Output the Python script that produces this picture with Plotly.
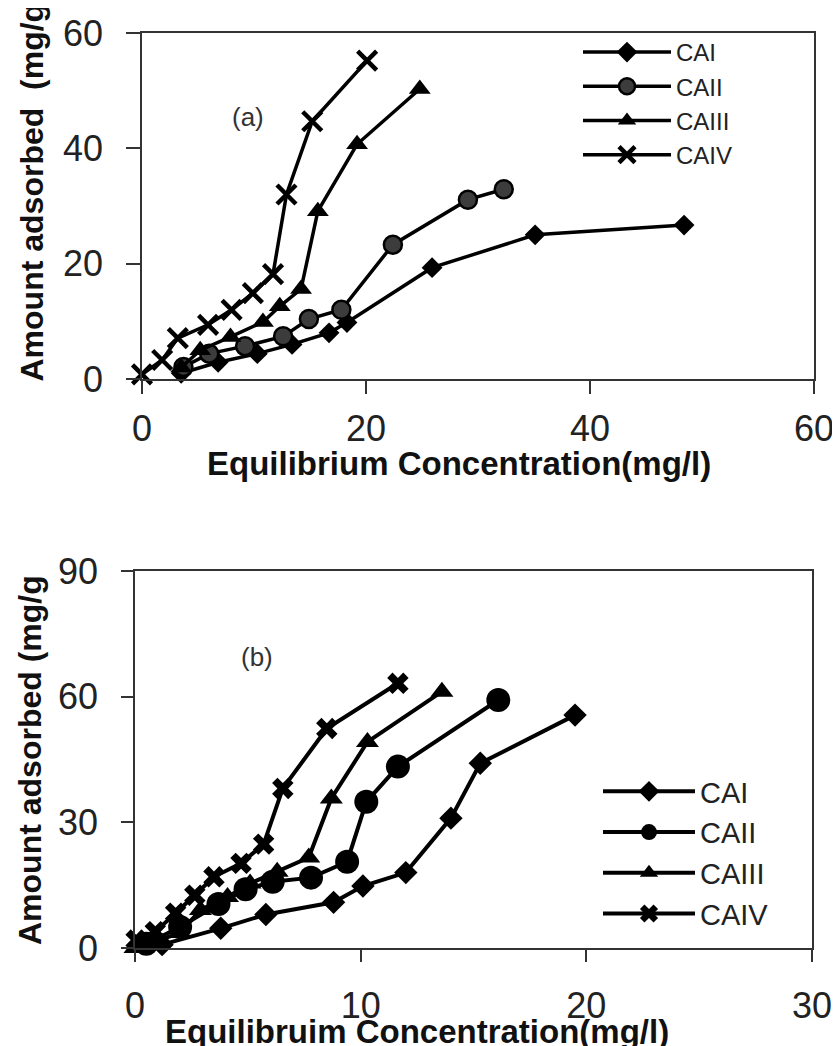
import plotly.graph_objects as go

# ---- panel (a) data ----
series_names = ["CAI", "CAII", "CAIII", "CAIV"]

a_cai_x = [3.5, 6.8, 10.3, 13.4, 16.7, 18.3, 25.9, 35.1, 48.4]
a_cai_y = [1.0, 2.9, 4.4, 6.0, 8.0, 9.8, 19.3, 25.0, 26.7]
a_caii_x = [3.7, 6.0, 9.2, 12.6, 14.9, 17.8, 22.4, 29.1, 32.3]
a_caii_y = [2.1, 4.4, 5.7, 7.4, 10.4, 12.0, 23.3, 31.1, 32.9]
a_caiii_x = [3.5, 5.2, 7.9, 10.8, 12.3, 14.2, 15.7, 19.2, 24.8]
a_caiii_y = [2.0, 5.0, 7.3, 9.9, 12.6, 15.6, 29.1, 40.7, 50.3]
a_caiv_x = [0.0, 1.8, 3.2, 5.9, 8.0, 9.9, 11.7, 12.9, 15.2, 20.1]
a_caiv_y = [0.8, 3.3, 7.1, 9.4, 12.0, 14.9, 18.2, 32.0, 44.7, 55.2]

# ---- panel (b) data ----
b_cai_x = [1.2, 3.8, 5.8, 8.8, 10.1, 12.0, 14.0, 15.3, 19.5]
b_cai_y = [0.8, 4.7, 8.0, 10.9, 14.8, 18.0, 31.0, 44.1, 55.6]
b_caii_x = [0.5, 2.0, 3.7, 4.9, 6.1, 7.8, 9.4, 10.25, 11.65, 16.1]
b_caii_y = [1.0, 5.0, 10.5, 14.0, 15.8, 16.8, 20.6, 34.9, 43.3, 59.2]
b_caiii_x = [0.0, 2.0, 2.9, 4.1, 5.1, 6.3, 7.7, 8.7, 10.3, 13.6]
b_caiii_y = [0.0, 3.6, 9.1, 12.2, 15.4, 18.2, 21.6, 35.7, 49.2, 61.2]
b_caiv_x = [0.05, 0.9, 1.8, 2.65, 3.5, 4.7, 5.7, 6.55, 8.5, 11.65]
b_caiv_y = [1.9, 3.9, 8.3, 12.6, 17.0, 20.2, 24.8, 38.1, 52.4, 63.2]

a_x_ticks = [0, 20, 40, 60]
a_y_ticks = [0, 20, 40, 60]
b_x_ticks = [0, 10, 20, 30]
b_y_ticks = [0, 30, 60, 90]

FONT = "Arial, Liberation Sans, sans-serif"
# the page body has an 8px margin, so the figure is 8px smaller and
# every layout position below is given in page pixels
PAD = 8
W, H = 840 - PAD, 1046 - PAD


def fx(px):
    return (px - PAD) / W


def fy(py):
    return 1 - (py - PAD) / H


def axis(ticks, domain, anchor, ticklen, standoff):
    return dict(
        range=[ticks[0], ticks[-1]], tickvals=ticks, domain=domain, anchor=anchor,
        showline=True, mirror=True, linecolor="#333", linewidth=1.5,
        ticks="outside", ticklen=ticklen, tickwidth=1.5, tickcolor="#333",
        showgrid=False, zeroline=False, ticklabelstandoff=standoff,
        automargin=False,
        tickfont=dict(family=FONT, size=36, color="#222"),
    )


fig = go.Figure()

a_styles = [
    dict(symbol="diamond", size=16, color="black"),
    dict(symbol="circle", size=18, color="#3c3c3c", line=dict(color="black", width=2.5)),
    dict(symbol="triangle-up", size=19, color="black"),
    dict(symbol="x-thin", size=19, color="black", line=dict(color="black", width=4.5)),
]
a_data = [(a_cai_x, a_cai_y), (a_caii_x, a_caii_y), (a_caiii_x, a_caiii_y), (a_caiv_x, a_caiv_y)]
for name, (xs, ys), mk in zip(series_names, a_data, a_styles):
    fig.add_trace(go.Scatter(
        x=xs, y=ys, name=name, mode="lines+markers", xaxis="x", yaxis="y",
        line=dict(color="black", width=3.5), marker=mk, cliponaxis=False,
        legend="legend",
    ))

b_styles = [
    dict(symbol="diamond", size=18, color="black"),
    dict(symbol="circle", size=24, color="black"),
    dict(symbol="triangle-up", size=20, color="black"),
    dict(symbol="x", size=19, color="black"),
]
b_data = [(b_cai_x, b_cai_y), (b_caii_x, b_caii_y), (b_caiii_x, b_caiii_y), (b_caiv_x, b_caiv_y)]
for name, (xs, ys), mk in zip(series_names, b_data, b_styles):
    fig.add_trace(go.Scatter(
        x=xs, y=ys, name=name, mode="lines+markers", xaxis="x2", yaxis="y2",
        line=dict(color="black", width=4), marker=mk, cliponaxis=False,
        legend="legend2",
    ))

title_font = dict(family=FONT, size=33, color="#111", weight="bold")
annotations = [
    dict(text="Equilibrium Concentration(mg/l)", x=fx(459), y=fy(463),
         xanchor="center", yanchor="middle", font=title_font),
    dict(text="Equilibruim Concentration(mg/l)", x=fx(417), y=fy(1031),
         xanchor="center", yanchor="middle", font=title_font),
    dict(text="Amount adsorbed\u00a0\u00a0(mg/g", x=fx(32), y=fy(384), textangle=-90,
         xanchor="center", yanchor="bottom", font=dict(title_font, size=32)),
    dict(text="Amount adsorbed (mg/g", x=fx(30), y=fy(947), textangle=-90,
         xanchor="center", yanchor="bottom", font=dict(title_font, size=32)),
    dict(text="(a)", x=fx(248), y=fy(117), xanchor="center", yanchor="middle",
         font=dict(family=FONT, size=26, color="#333")),
    dict(text="(b)", x=fx(257), y=fy(657), xanchor="center", yanchor="middle",
         font=dict(family=FONT, size=26, color="#333")),
]
for a in annotations:
    a.update(xref="paper", yref="paper", showarrow=False)

fig.update_layout(
    width=W, height=H, margin=dict(l=0, r=0, t=0, b=0, autoexpand=False),
    paper_bgcolor="white", plot_bgcolor="white",
    xaxis=axis(a_x_ticks, [fx(142), fx(814)], "y", 13, 4),
    yaxis=axis(a_y_ticks, [fy(379), fy(33)], "x", 14, 16),
    xaxis2=axis(b_x_ticks, [fx(135), fx(812)], "y2", 12, 13),
    yaxis2=axis(b_y_ticks, [fy(948), fy(571)], "x2", 12, 16),
    legend=dict(x=fx(578), y=fy(30), xanchor="left", yanchor="top",
                bgcolor="rgba(0,0,0,0)", itemwidth=88, tracegroupgap=0,
                font=dict(family=FONT, size=24, color="#222")),
    legend2=dict(x=fx(598), y=fy(766), xanchor="left", yanchor="top",
                 bgcolor="rgba(0,0,0,0)", itemwidth=92, tracegroupgap=0,
                 font=dict(family=FONT, size=29, color="#222")),
    annotations=annotations,
    showlegend=True,
)

fig.write_html("out.html")
